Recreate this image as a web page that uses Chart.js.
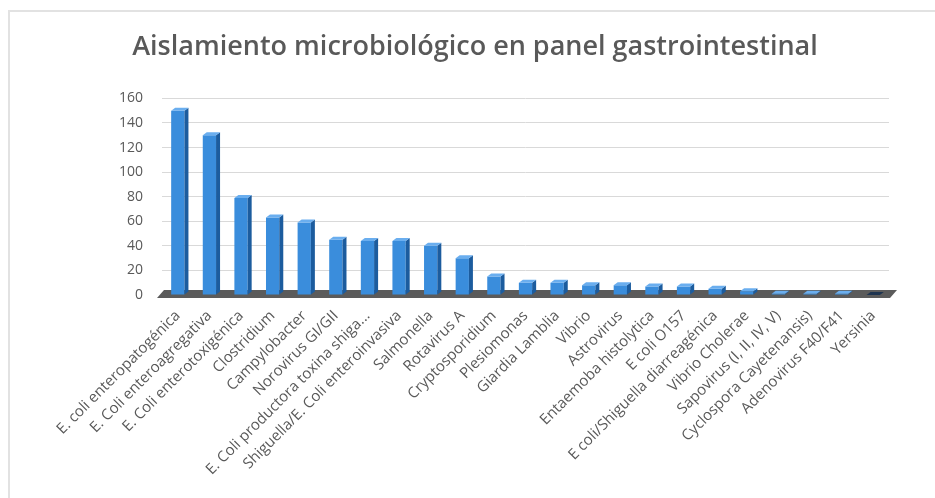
<!DOCTYPE html>
<html>
<head>
<meta charset="utf-8">
<script src="https://cdn.jsdelivr.net/npm/chart.js@4.4.1/dist/chart.umd.min.js"></script>
<style>
    html, body { margin: 0; padding: 0; background: #ffffff; }
    #frame { position: absolute; left: 8px; top: 10px; width: 940px; height: 500px;
             border-left: 2px solid #e2e2e2; border-top: 2px solid #e2e2e2; }
    #wrap { position: absolute; left: 0; top: 0; width: 935px; height: 498px; }
</style>
</head>
<body>
<div id="frame"></div>
<div id="wrap"><canvas id="chart"></canvas></div>
<script>
// Aislamientos por microorganismo
var categories = [
    'E. coli enteropatogénica',
    'E. Coli enteroagregativa',
    'E. Coli enterotoxigénica',
    'Clostridium',
    'Campylobacter',
    'Norovirus GI/GII',
    'E. Coli productora toxina shiga...',
    'Shiguella/E. Coli enteroinvasiva',
    'Salmonella',
    'Rotavirus A',
    'Cryptosporidium',
    'Plesiomonas',
    'Giardia Lamblia',
    'Vibrio',
    'Astrovirus',
    'Entaemoba histolytica',
    'E coli O157',
    'E coli/Shiguella diarreagénica',
    'Vibrio Cholerae',
    'Sapovirus (I, II, IV, V)',
    'Cyclospora Cayetenansis)',
    'Adenovirus F40/F41',
    'Yersinia'
];
var counts = [150, 130, 79, 63, 59, 45, 44, 44, 40, 30, 15, 10, 10, 8, 8, 7, 7, 5, 3, 1, 1, 1, 0];
var yTicks = [0, 20, 40, 60, 80, 100, 120, 140, 160];

var textColor = '#595959';

// floor and the fake 3D faces of each column
var depthPlugin = {
    id: 'depth3d',
    beforeDatasetsDraw: function (chart) {
        var a = chart.chartArea;
        var ctx = chart.ctx;
        ctx.save();
        ctx.fillStyle = '#5b5b5b';
        ctx.beginPath();
        ctx.moveTo(a.left + 2, a.bottom - 5);
        ctx.lineTo(a.right + 8, a.bottom - 5);
        ctx.lineTo(a.right + 1, a.bottom + 3);
        ctx.lineTo(a.left - 5, a.bottom + 3);
        ctx.closePath();
        ctx.fill();
        ctx.restore();
    },
    afterDatasetsDraw: function (chart) {
        var ctx = chart.ctx;
        var meta = chart.getDatasetMeta(0);
        ctx.save();
        meta.data.forEach(function (bar, i) {
            var p = bar.getProps(['x', 'y', 'base', 'width'], true);
            var l = p.x - p.width / 2;
            var r = p.x + p.width / 2;
            var d = 4, h = 3;
            if (counts[i] > 0) {
                ctx.fillStyle = '#1c5c9e';
                ctx.beginPath();
                ctx.moveTo(r, p.y);
                ctx.lineTo(r + d, p.y - h);
                ctx.lineTo(r + d, p.base - h);
                ctx.lineTo(r, p.base);
                ctx.closePath();
                ctx.fill();
            }
            ctx.fillStyle = counts[i] > 0 ? '#6aaeef' : '#1e3450';
            ctx.beginPath();
            ctx.moveTo(l, p.y);
            ctx.lineTo(l + d, p.y - h);
            ctx.lineTo(r + d, p.y - h);
            ctx.lineTo(r, p.y);
            ctx.closePath();
            ctx.fill();
        });
        ctx.restore();
    }
};

var ctx = document.getElementById('chart').getContext('2d');

var data = {
    labels: categories,
    datasets: [{
        label: 'Aislamientos',
        data: counts,
        backgroundColor: '#3a8ddc',
        borderWidth: 0,
        categoryPercentage: 1.0,
        barPercentage: 0.42
    }]
};

var options = {
    responsive: true,
    maintainAspectRatio: false,
    animation: false,
    layout: {
        padding: { left: 61, right: 46, top: 0, bottom: 5 }
    },
    plugins: {
        legend: { display: false },
        tooltip: { enabled: false },
        title: {
            display: true,
            text: 'Aislamiento microbiológico en panel gastrointestinal',
            color: textColor,
            font: { family: 'Open Sans', size: 27, weight: '600' },
            padding: { top: 31, bottom: 35 }
        }
    },
    scales: {
        x: {
            grid: { display: false, drawTicks: false },
            border: { display: false },
            ticks: {
                autoSkip: false,
                maxRotation: 45,
                minRotation: 45,
                padding: 12,
                color: textColor,
                font: { family: 'Open Sans', size: 15 }
            },
            afterFit: function (scale) {
                scale.height = 198;
            }
        },
        y: {
            min: 0,
            max: 160,
            afterBuildTicks: function (scale) {
                scale.ticks = yTicks.map(function (v) { return { value: v }; });
            },
            afterFit: function (scale) {
                scale.width = 101;
            },
            grid: { color: '#d9d9d9', lineWidth: 1, drawTicks: false },
            border: { display: false },
            ticks: {
                padding: 19,
                color: textColor,
                font: { family: 'Open Sans', size: 14 }
            }
        }
    }
};

var myBarChart = new Chart(ctx, {
    type: 'bar',
    data: data,
    options: options,
    plugins: [depthPlugin]
});
</script>
</body>
</html>
